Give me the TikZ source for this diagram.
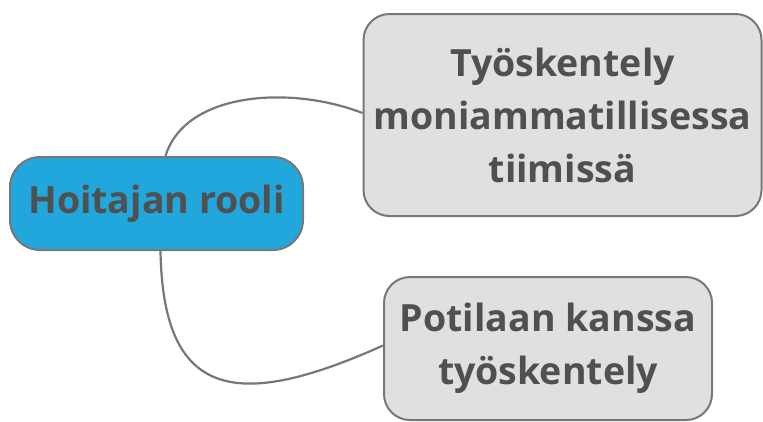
\documentclass[tikz,border=0pt]{standalone}
\usepackage{fontspec}
\setmainfont{Open Sans}
\usepackage{xcolor}
\usetikzlibrary{positioning}
\definecolor{hubblue}{HTML}{22A7DD}
\definecolor{leafgray}{HTML}{E0E0E0}
\definecolor{edgegray}{HTML}{777777}
\definecolor{textgray}{HTML}{505050}
\tikzset{
    mapnode/.style={draw=edgegray, line width=2pt, rectangle, rounded corners=26pt,
        align=center, text=textgray, inner sep=0pt,
        font=\fontsize{37.5}{53}\selectfont\bfseries},
    hubnode/.style={mapnode, fill=hubblue, rounded corners=30pt},
    leafnode/.style={mapnode, fill=leafgray},
    branch/.style={draw=edgegray, line width=2.2pt}
}
\begin{document}
\begin{tikzpicture}[x=1pt, y=-1pt]
    \useasboundingbox (0,0) rectangle (763,421);
    % keskussolmu
    \node[hubnode, minimum width=293pt, minimum height=93pt] (hub) at (156.5,203.5) {Hoitajan rooli};
    % haarat
    \node[leafnode, minimum width=398pt, minimum height=202pt] (team) at (562.5,115) {Työskentely\\moniammatillisessa\\tiimissä};
    \node[leafnode, minimum width=328pt, minimum height=143pt] (patient) at (548,348.5) {Potilaan kanssa\\työskentely};

    \draw[branch] ([xshift=9pt]hub.north) .. controls (185,92) and (290,85) .. ([yshift=2pt]team.west);
    \draw[branch] ([xshift=4pt]hub.south) .. controls (163,398) and (235,412) .. ([yshift=3pt]patient.west);
\end{tikzpicture}
\end{document}
